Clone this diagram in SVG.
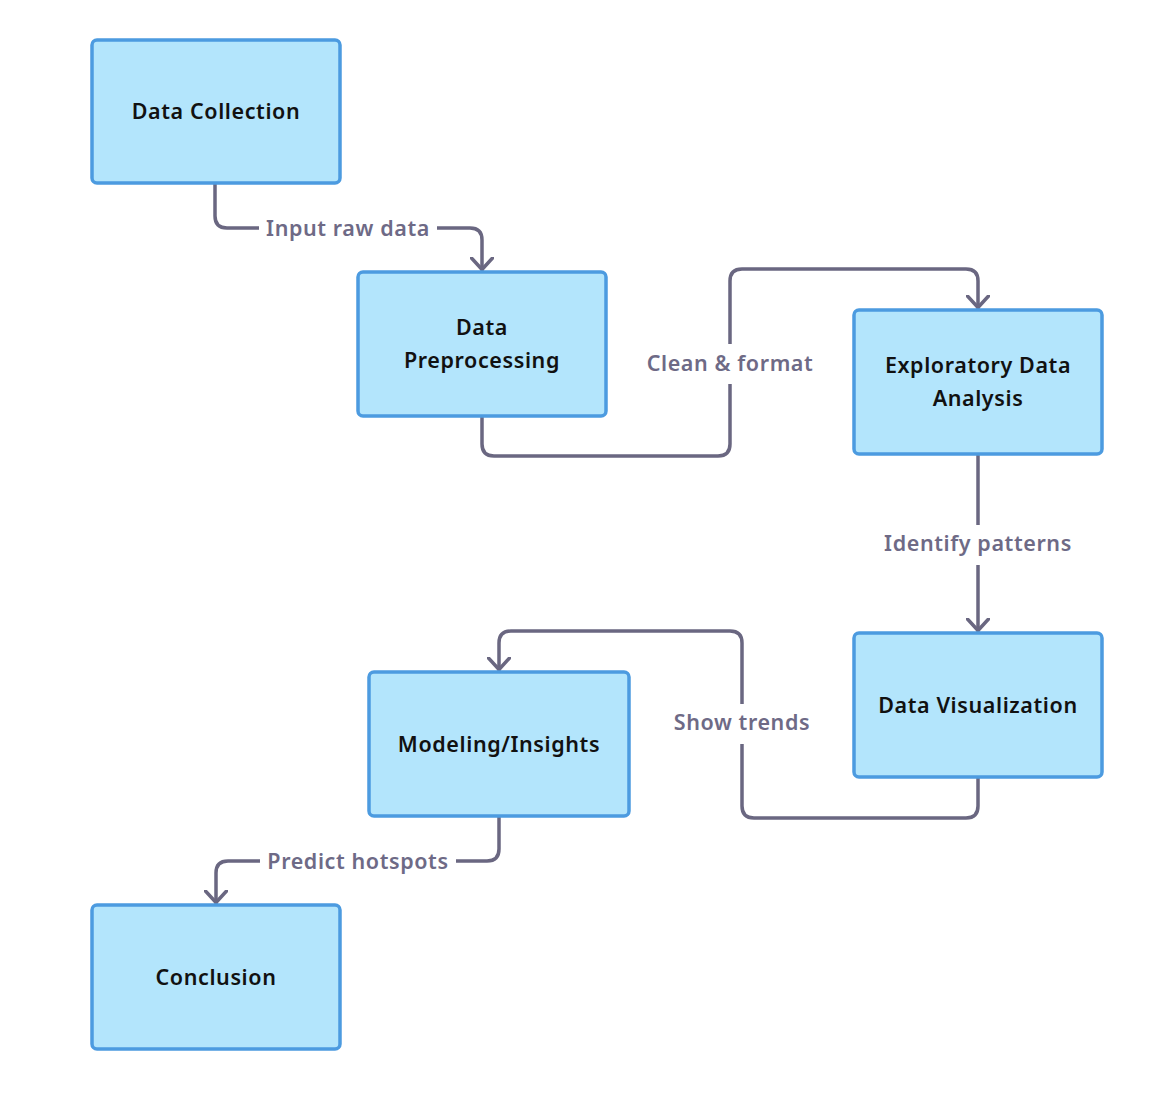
<svg xmlns="http://www.w3.org/2000/svg" width="1173" height="1114" viewBox="0 0 1173 1114">
<style>
.node rect{fill:#b3e5fc;stroke:#4c9be0;stroke-width:3.5}
.node text{font-family:"Noto Sans","Liberation Sans",sans-serif;font-size:21.5px;font-weight:600;letter-spacing:0.6px;fill:#111;text-anchor:middle}
.edge{fill:none;stroke:#6a6781;stroke-width:3.5;stroke-linecap:round;stroke-linejoin:round}
.lbl-bg{fill:#fff}
.lbl{font-family:"Noto Sans","Liberation Sans",sans-serif;font-size:21.5px;font-weight:600;letter-spacing:0.6px;fill:#6e6a86;text-anchor:middle}
</style>
<defs>
<marker id="arr" viewBox="0 0 14 24" refX="13" refY="12" markerWidth="14" markerHeight="24" markerUnits="userSpaceOnUse" orient="auto">
<path d="M1,1.5 L12.5,12 L1,22.5" fill="none" stroke="#6a6781" stroke-width="3.5" stroke-linecap="round" stroke-linejoin="round"/>
</marker>
</defs>
<rect width="1173" height="1114" fill="#fff"/>
<g id="connectors">
<path class="edge" d="M215,184 V216 Q215,228 227,228 H470 Q482,228 482,240 V270" marker-end="url(#arr)"/>
<rect class="lbl-bg" x="259" y="212" width="178" height="32"/>
<text class="lbl" x="348" y="236">Input raw data</text>
<path class="edge" d="M482,416 V444 Q482,456 494,456 H718 Q730,456 730,444 V281 Q730,269 742,269 H966 Q978,269 978,281 V308" marker-end="url(#arr)"/>
<rect class="lbl-bg" x="640" y="344" width="180" height="40"/>
<text class="lbl" x="730" y="371">Clean &amp; format</text>
<path class="edge" d="M978,455 V631" marker-end="url(#arr)"/>
<rect class="lbl-bg" x="880" y="525" width="196" height="40"/>
<text class="lbl" x="978" y="551">Identify patterns</text>
<path class="edge" d="M978,778 V806 Q978,818 966,818 H754 Q742,818 742,806 V643 Q742,631 730,631 H511 Q499,631 499,643 V670" marker-end="url(#arr)"/>
<rect class="lbl-bg" x="665" y="704" width="154" height="40"/>
<text class="lbl" x="742" y="730">Show trends</text>
<path class="edge" d="M499,817 V849 Q499,861 487,861 H228 Q216,861 216,873 V903" marker-end="url(#arr)"/>
<rect class="lbl-bg" x="260" y="845" width="196" height="32"/>
<text class="lbl" x="358" y="869">Predict hotspots</text>
</g>
<g id="node-data-collection" class="node">
<rect x="92" y="40" width="248" height="143" rx="5"/>
<text x="216" y="119">Data Collection</text>
</g>
<g id="node-data-preprocessing" class="node">
<rect x="358" y="272" width="248" height="144" rx="5"/>
<text x="482" y="335">Data</text>
<text x="482" y="368">Preprocessing</text>
</g>
<g id="node-eda" class="node">
<rect x="854" y="310" width="248" height="144" rx="5"/>
<text x="978" y="373">Exploratory Data</text>
<text x="978" y="406">Analysis</text>
</g>
<g id="node-data-visualization" class="node">
<rect x="854" y="633" width="248" height="144" rx="5"/>
<text x="978" y="713">Data Visualization</text>
</g>
<g id="node-modeling" class="node">
<rect x="369" y="672" width="260" height="144" rx="5"/>
<text x="499" y="752">Modeling/Insights</text>
</g>
<g id="node-conclusion" class="node">
<rect x="92" y="905" width="248" height="144" rx="5"/>
<text x="216" y="985">Conclusion</text>
</g>
</svg>
